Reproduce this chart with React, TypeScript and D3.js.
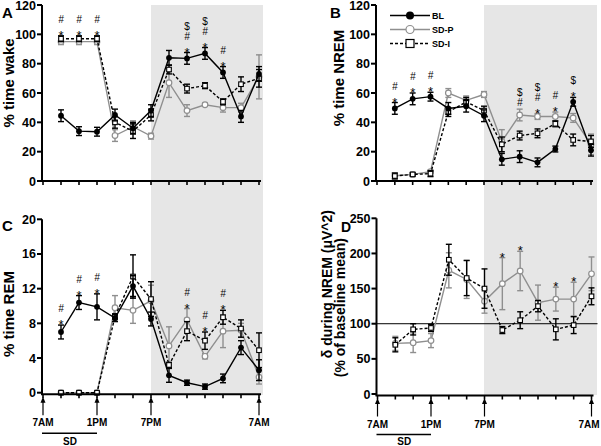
import * as d3 from 'd3';

// hours after 7AM (2h bins)
const hours = [2, 4, 6, 8, 10, 12, 14, 16, 18, 20, 22, 24];

// A: % time wake
const wakeBL = [44.5, 34, 33.6, 45, 36, 48, 84, 83.6, 87, 74, 44, 73];
const wakeBLErr = [4, 3, 3, 4, 4, 4, 5, 4, 4, 4, 4, 5];
const wakeSDP = [95, 95, 95, 31, 37, 30.6, 67, 48, 52, 50, 50, 71];
const wakeSDPErr = [2, 2, 2, 4, 4, 2, 10, 4, 1, 3, 3, 15];
const wakeSDI = [97, 97, 97, 40, 34, 45, 76, 63, 65, 54, 66, 70];
const wakeSDIErr = [2, 2, 2, 4, 5, 4, 3, 3, 2, 2, 5, 6];

// B: % time NREM
const nremBL = [49.5, 56, 57.5, 49.5, 51, 44.5, 14.8, 16.6, 12.7, 21.8, 54, 21];
const nremBLErr = [4, 4, 3, 4, 4, 4, 4, 4, 3, 2, 3, 4];
const nremSDP = [3.6, 4.5, 6.4, 60, 55, 59, 27, 45, 44, 44, 43, 25];
const nremSDPErr = [2, 1, 1, 3, 3, 2, 8, 4, 2, 3, 3, 7];
const nremSDI = [3.4, 4.5, 5, 47, 54, 48, 25, 31, 32.5, 39, 28, 27];
const nremSDIErr = [2, 1, 2, 3, 3, 3, 5, 3, 3, 2, 4, 4];

// C: % time REM
const remBL = [7, 10.4, 9.9, 8.6, 12.3, 8.5, 2, 1.15, 0.7, 1.65, 5.2, 2.6];
const remBLErr = [0.8, 0.8, 1.5, 0.4, 1.2, 0.8, 0.8, 0.3, 0.3, 0.5, 0.8, 1.2];
const remSDP = [0, 0, 0, 9.8, 9.5, 10.6, 5.4, 8.4, 4.2, 7.1, 7.2, 1.8];
const remSDPErr = [0.1, 0.1, 0.1, 1.4, 1.5, 1.8, 2.2, 1.3, 0.3, 1.9, 0.8, 0.8];
const remSDI = [0, 0, 0, 8.8, 13.4, 10.8, 3.2, 7.1, 6, 8.7, 7.4, 4.9];
const remSDIErr = [0.1, 0.1, 0.1, 0.3, 2.5, 2, 0.3, 1.1, 1, 0.8, 1, 2];

// D: delta power during NREM (% of baseline mean)
const deltaSDP = [72, 73, 76, 176, 163, 132, 157, 175, 130, 135, 135, 171];
const deltaSDPErr = [10, 14, 10, 25, 27, 17, 37, 28, 25, 17, 24, 24];
const deltaSDI = [70, 92, 94, 191, 165, 150, 91, 105, 125, 92, 98, 139];
const deltaSDIErr = [10, 8, 5, 22, 25, 28, 5, 12, 8, 15, 12, 12];

// significance marks
const marksA = [[2, '*#'], [4, '*#'], [6, '*#'], [16, '*#$'], [18, '*#$'], [20, '*#']];
const marksB = [[2, '*#'], [4, '*#'], [6, '*#'], [16, '#$'], [18, '*#$'], [20, '*#'], [22, '*$']];
const marksC = [[2, '*#'], [4, '*#'], [6, '*#'], [16, '*#'], [18, '*#'], [20, '*#']];
const marksD = [[14, '*'], [16, '*'], [20, '*'], [22, '*']];

const clockTicks = [[0, '7AM'], [6, '1PM'], [12, '7PM'], [24, '7AM']];

const GRAY = '#8f8f8f';
const FONT = 'Arial, "Liberation Sans", sans-serif';

const styles = {
  BL: { color: '#000', dash: null, marker: 'dot' },
  SDP: { color: GRAY, dash: null, marker: 'circle' },
  SDI: { color: '#000', dash: '3,2', marker: 'square' },
};

function Marker({ type, x, y }) {
  if (type === 'dot') return <circle cx={x} cy={y} r={2.9} fill="#000" />;
  if (type === 'circle') return <circle cx={x} cy={y} r={2.8} fill="#fff" stroke={GRAY} strokeWidth={1.2} />;
  return <rect x={x - 2.3} y={y - 2.3} width={4.6} height={4.6} fill="#fff" stroke="#000" strokeWidth={1.1} />;
}

function Panel({ x0, x1, y0, y1, domain, ticks, series, marks, bottom, refLine }) {
  const x = d3.scaleLinear().domain([0, 24]).range([x0, x1]);
  const y = d3.scaleLinear().domain(domain).range([y0, y1]);
  const line = d3.line().x((d) => x(d[0])).y((d) => y(d[1]));
  const axisY = y0 + (bottom ? 1.5 : 0);

  return (
    <g>
      {refLine != null && (
        <line x1={x0 - 1} x2={x1 + 6} y1={y(refLine)} y2={y(refLine)} stroke="#000" strokeWidth={1} />
      )}
      {series.map((s, i) => {
        const st = styles[s.key];
        const pts = hours.map((h, j) => [h, s.values[j]]);
        return (
          <g key={i}>
            <path d={line(pts)} fill="none" stroke={st.color} strokeWidth={1.4} strokeDasharray={st.dash || undefined} />
            {hours.map((h, j) => {
              const cx = x(h);
              const top = y(s.values[j] + s.err[j]);
              const bot = y(Math.max(domain[0], s.values[j] - s.err[j]));
              return (
                <g key={j} stroke={st.color} strokeWidth={1.4}>
                  <line x1={cx} x2={cx} y1={top} y2={bot} />
                  <line x1={cx - 3} x2={cx + 3} y1={top} y2={top} />
                  <line x1={cx - 3} x2={cx + 3} y1={bot} y2={bot} />
                </g>
              );
            })}
            {hours.map((h, j) => (
              <Marker key={j} type={st.marker} x={x(h)} y={y(s.values[j])} />
            ))}
          </g>
        );
      })}
      <g fontFamily={FONT} textAnchor="middle" opacity={0.99}>
        {marks.map(([h, syms], i) => {
          const j = hours.indexOf(h);
          const top = d3.max(series, (s) => s.values[j] + s.err[j]);
          const base = y(top) - 3;
          return (
            <g key={i}>
              {syms.split('').map((c, k) => (
                <text
                  key={k}
                  x={x(h)}
                  y={base - k * 10 + (c === '*' ? 7 : 0)}
                  fontSize={c === '*' ? 13 : 10}
                  fontStyle={c === '#' ? 'italic' : 'normal'}
                  fill="#000"
                >
                  {c}
                </text>
              ))}
            </g>
          );
        })}
      </g>
      {/* axes */}
      <line x1={x0 - 1} x2={x0 - 1} y1={y1} y2={axisY} stroke="#000" strokeWidth={2} />
      {ticks.map((t) => (
        <g key={t}>
          <line x1={x0 - 6} x2={x0 - 1} y1={y(t)} y2={y(t)} stroke="#000" strokeWidth={2} />
          <text x={x0 - 7} y={y(t) + 4.5} textAnchor="end" fontFamily={FONT} fontWeight="bold" fontSize={12.5}>
            {t}
          </text>
        </g>
      ))}
      <line x1={x0 - 2} x2={x1 + 2} y1={axisY} y2={axisY} stroke="#000" strokeWidth={2} />
      {d3.range(0, 25, 2).map((h) => (
        <line key={h} x1={x(h)} x2={x(h)} y1={axisY} y2={axisY + 4} stroke="#000" strokeWidth={1.6} />
      ))}
      {bottom && (
        <g fontFamily={FONT} fontWeight="bold" fontSize={10}>
          {clockTicks.map(([h, lab]) => (
            <g key={lab + h}>
              <line x1={x(h)} x2={x(h)} y1={axisY + 7} y2={axisY + 21} stroke="#000" strokeWidth={1.2} />
              <path d={`M${x(h)},${axisY + 2.5} l-2.5,6 l5,0 z`} fill="#000" />
              <text x={Math.min(x(h), 589)} y={axisY + 32} textAnchor="middle">{lab}</text>
            </g>
          ))}
          <line x1={x(0) - 1} x2={x(6)} y1={axisY + 39} y2={axisY + 39} stroke="#000" strokeWidth={1.5} />
          <text x={x(3)} y={444.5} textAnchor="middle">SD</text>
        </g>
      )}
    </g>
  );
}

export default function App() {
  const legend = [
    ['BL', 'BL'],
    ['SDP', 'SD-P'],
    ['SDI', 'SD-I'],
  ];
  return (
    <svg width={601} height={446} style={{ position: 'absolute', left: 0, top: 0, background: '#fff' }}>
      {/* dark period shading */}
      <rect x={151} y={5} width={112} height={390} fill="#e6e6e6" />
      <rect x={484} y={5} width={113} height={390} fill="#e6e6e6" />

      <Panel
        x0={43} x1={259} y0={181} y1={5} domain={[0, 120]} ticks={[0, 20, 40, 60, 80, 100, 120]}
        series={[
          { key: 'SDP', values: wakeSDP, err: wakeSDPErr },
          { key: 'SDI', values: wakeSDI, err: wakeSDIErr },
          { key: 'BL', values: wakeBL, err: wakeBLErr },
        ]}
        marks={marksA}
      />
      <Panel
        x0={377} x1={591} y0={181} y1={5} domain={[0, 120]} ticks={[0, 20, 40, 60, 80, 100, 120]}
        series={[
          { key: 'SDP', values: nremSDP, err: nremSDPErr },
          { key: 'SDI', values: nremSDI, err: nremSDIErr },
          { key: 'BL', values: nremBL, err: nremBLErr },
        ]}
        marks={marksB}
      />
      <Panel
        x0={43} x1={259} y0={392.7} y1={219.3} domain={[0, 20]} ticks={[0, 4, 8, 12, 16, 20]}
        series={[
          { key: 'SDP', values: remSDP, err: remSDPErr },
          { key: 'SDI', values: remSDI, err: remSDIErr },
          { key: 'BL', values: remBL, err: remBLErr },
        ]}
        marks={marksC}
        bottom
      />
      <Panel
        x0={377.5} x1={591.5} y0={394} y1={218.3} domain={[0, 250]} ticks={[0, 50, 100, 150, 200, 250]}
        series={[
          { key: 'SDP', values: deltaSDP, err: deltaSDPErr },
          { key: 'SDI', values: deltaSDI, err: deltaSDIErr },
        ]}
        marks={marksD}
        refLine={100}
        bottom
      />

      {/* legend */}
      <g fontFamily={FONT} fontWeight="bold" fontSize={9}>
        {legend.map(([k, lab], i) => {
          const st = styles[k];
          const ly = 15.5 + i * 14;
          return (
            <g key={k}>
              <line x1={390} x2={430} y1={ly} y2={ly} stroke={st.color} strokeWidth={1.3} strokeDasharray={st.dash || undefined} />
              {k === 'BL' && <circle cx={410} cy={ly} r={4} fill="#000" />}
              {k === 'SDP' && <circle cx={410} cy={ly} r={4} fill="#fff" stroke={GRAY} strokeWidth={1.2} />}
              {k === 'SDI' && <rect x={406} y={ly - 4} width={8} height={8} fill="#fff" stroke="#000" strokeWidth={1.2} />}
              <text x={432} y={ly + 3.5}>{lab}</text>
            </g>
          );
        })}
      </g>

      {/* axis titles and panel letters */}
      <g fontFamily={FONT} fontWeight="bold">
        <text fontSize={15} x={2} y={18}>A</text>
        <text fontSize={15} x={330} y={18}>B</text>
        <text fontSize={15} x={2} y={231}>C</text>
        <text fontSize={14} x={341} y={232}>D</text>
        <text fontSize={15} transform="translate(14,83) rotate(-90)" textAnchor="middle">% time wake</text>
        <text fontSize={15} transform="translate(344,78) rotate(-90)" textAnchor="middle">% time NREM</text>
        <text fontSize={15} transform="translate(14,314) rotate(-90)" textAnchor="middle">% time REM</text>
        <text fontSize={14} transform="translate(332,210) rotate(-90)" textAnchor="end">δ during NREM (μV^2)</text>
        <text fontSize={14} transform="translate(345,238) rotate(-90)" textAnchor="end">(% of baseline mean)</text>
      </g>
    </svg>
  );
}
